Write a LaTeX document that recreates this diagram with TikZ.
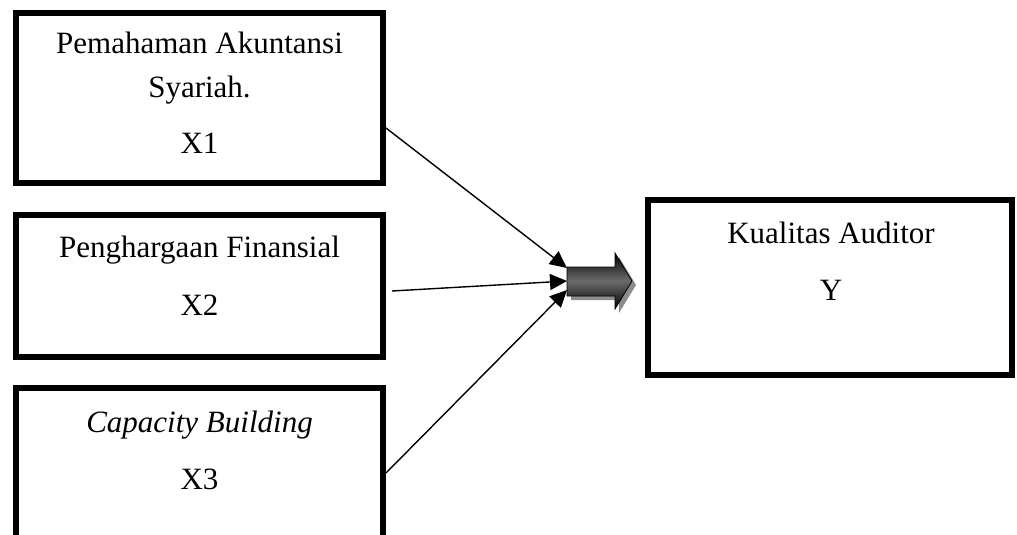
\documentclass[tikz,border=0pt]{standalone}
\usepackage{fontspec}
\setmainfont{Liberation Serif}
\usetikzlibrary{arrows.meta}
\begin{document}
\begin{tikzpicture}[x=1pt,y=-1pt,
  box/.style={draw=black, line width=6pt, fill=white, inner sep=0pt},
  lbl/.style={font=\fontsize{31}{37}\selectfont, anchor=base, inner sep=0pt},
  conn/.style={line width=1.4pt, -{Triangle[length=17pt,width=16pt]}}]
\useasboundingbox (0,0) rectangle (1017,535);

% boxes
\node[box, minimum width=367pt, minimum height=170pt] (b1) at (199.5,98) {};
\node[box, minimum width=367pt, minimum height=142pt] (b2) at (199.5,286) {};
\node[box, minimum width=367pt, minimum height=157pt] (b3) at (199.5,466.5) {};
\node[box, minimum width=364pt, minimum height=175pt] (by) at (830,287.5) {};

% texts
\node[lbl] (t1a) at (199.5,53) {Pemahaman Akuntansi};
\node[lbl] (t1b) at (199.5,97) {Syariah.};
\node[lbl] (t1c) at (199.5,153) {X1};
\node[lbl] (t2a) at (199.5,257) {Penghargaan Finansial};
\node[lbl] (t2b) at (199.5,315) {X2};
\node[lbl] (t3a) at (199.5,432) {\itshape Capacity Building};
\node[lbl] (t3b) at (199.5,489) {X3};
\node[lbl] (tya) at (831,243) {Kualitas Auditor};
\node[lbl] (tyb) at (831,300) {Y};

% block arrow (shadow, then shaded body)
\fill[black!45] (571,271) -- (619,271) -- (619,257) -- (636,285) -- (619,313) -- (619,300) -- (571,300) -- cycle;
\shade[top color=black, bottom color=black, middle color=black!58, draw=black, line width=0.8pt]
  (567,267) -- (615,267) -- (615,253) -- (632,281) -- (615,309) -- (615,296) -- (567,296) -- cycle;
\coordinate (ba) at (567,281);

% connectors
\draw[conn] ([yshift=-30pt]b1.east) -- ([yshift=13pt]ba);
\draw[conn] ([xshift=6pt,yshift=-5pt]b2.east) -- (ba);
\draw[conn] ([yshift=-6.5pt]b3.east) -- ([yshift=-9pt]ba);
\end{tikzpicture}
\end{document}
